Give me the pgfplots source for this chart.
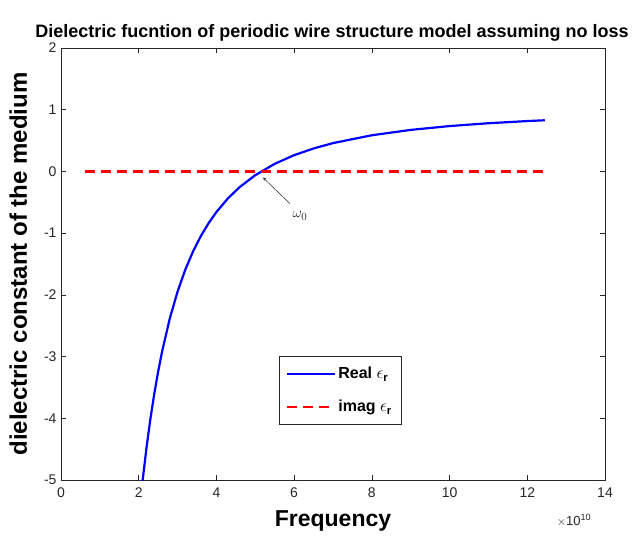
\documentclass[border=0pt]{standalone}
\usepackage{pgfplots}
\pgfplotsset{compat=1.18}
\usepackage{fontspec}
\setmainfont{Liberation Sans}
\definecolor{axgray}{RGB}{38,38,38}
\definecolor{mred}{RGB}{255,0,0}
\definecolor{mblue}{RGB}{0,0,255}
\begin{document}
\begin{tikzpicture}
\begin{axis}[
  scale only axis,
  width=544pt, height=432pt,
  xmin=0, xmax=14, ymin=-5, ymax=2,
  xtick={0,2,...,14}, ytick={-5,-4,...,2},
  tick align=inside,
  major tick length=5pt,
  axis line style={axgray, line width=0.6pt},
  tick style={axgray, line width=0.6pt},
  /pgf/number format/assume math mode=true,
  ticklabel style={font=\fontsize{14}{16}\selectfont, text=axgray},
  xticklabel style={yshift=-4pt},
  yticklabel style={xshift=-1pt},
  title={\textbf{Dielectric fucntion of periodic wire structure model assuming no loss}},
  title style={font=\fontsize{18}{20}\selectfont, yshift=-3pt, xshift=-1pt},
  xlabel={\textbf{Frequency}},
  xlabel style={font=\fontsize{23}{25}\selectfont, yshift=-6pt},
  ylabel={\textbf{dielectric constant of the medium}},
  ylabel style={font=\fontsize{24}{26}\selectfont, yshift=10pt},
  legend style={at={(rel axis cs:0.513,0.208)}, anchor=center, draw=axgray, line width=0.6pt,
    font=\fontsize{16}{18}\selectfont\bfseries, row sep=16pt, inner xsep=7pt, inner ysep=9pt},
  legend cell align=left,
  legend image post style={xscale=2.8},
  clip=true,
]
\addplot[draw=mblue, line width=2.2pt] coordinates {
(2.0,-5.631) (2.1,-5.014) (2.2,-4.480) (2.3,-4.014) (2.4,-3.605) (2.5,-3.244)
(2.6,-2.924) (2.8,-2.383) (3.0,-1.947) (3.2,-1.590) (3.4,-1.294) (3.6,-1.047)
(3.8,-0.837) (4.0,-0.658) (4.3,-0.434) (4.6,-0.253) (5.0,-0.061) (5.5,0.123)
(6.0,0.263) (6.5,0.372) (7.0,0.459) (8.0,0.586) (9.0,0.673) (10.0,0.735)
(11.0,0.781) (12.0,0.816) (12.45,0.829)
};
\addlegendentry{Real $\epsilon_{\mathbf{r}}$}
\addplot[draw=mred, line width=2.2pt, dash pattern={on 10pt off 6pt}] table[row sep=\\] {
x y\\ 0.62 0\\ 6.5 0\\ 12.45 0\\
};
\addlegendentry{imag $\epsilon_{\mathbf{r}}$}
\draw[-stealth, axgray, line width=0.5pt] (axis cs:5.89,-0.52) -- (axis cs:5.2,-0.1);
\node[font=\fontsize{15}{17}\selectfont, text=axgray] at (axis cs:6.15,-0.72) {$\omega_0$};
\coordinate (bl) at (rel axis cs:-0.1121,-0.1366);
\coordinate (tr) at (rel axis cs:1.0533,1.1111);
\coordinate (mult) at (rel axis cs:0.905,-0.093);
\end{axis}
\node[font=\fontsize{13}{15}\selectfont, text=axgray, anchor=west] at (mult) {$\times$10\textsuperscript{10}};
\pgfresetboundingbox
\path[use as bounding box] (bl) rectangle (tr);
\end{tikzpicture}
\end{document}
